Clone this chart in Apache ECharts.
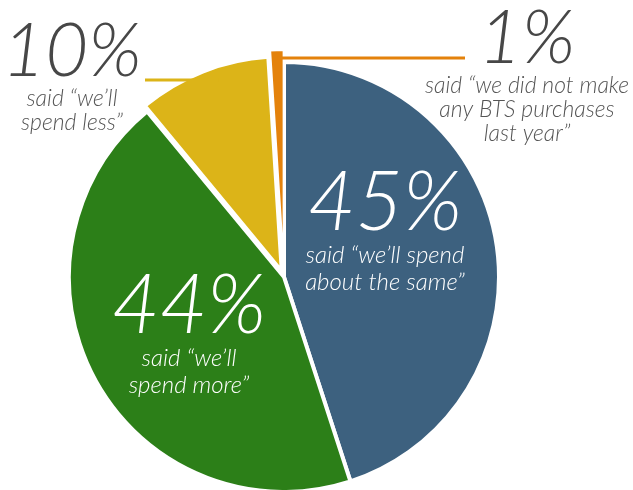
<!DOCTYPE html>
<html>
<head>
<meta charset="utf-8">
<script src="https://cdn.jsdelivr.net/npm/echarts@6/dist/echarts.min.js"></script>
<style>
  html, body { margin: 0; padding: 0; background: #fff; }
  #chart { width: 633px; height: 490px; }
</style>
</head>
<body>
<div id="chart"></div>
<script>
// Survey: planned back-to-school spending compared with last year
const answers = ['about the same', 'more', 'less', 'no purchases last year'];
const shares = [45, 44, 10, 1];
const captions = [
  ['said “we’ll spend', 'about the same”'],
  ['said “we’ll', 'spend more”'],
  ['said “we’ll', 'spend less”'],
  ['said “we did not make', 'any BTS purchases', 'last year”']
];

const sliceColors = ['#3d617f', '#2c7f18', '#dcb418', '#e4820b'];
const sliceBorder = [4, 4, 4, 2];
// how far each slice is pulled out of the pie
const pullOut = [0, 0, 6, 12];
const CENTER = [284, 277];
const RADIUS = 215;

// caption blocks: [centre x, top y]
const labelAnchor = [[385, 165], [189, 268], [72, 17], [527, 4]];
const onSlice = [true, true, false, false];
// leader lines for the outside captions: height, caption-side end, reach into slice
const leader = { 2: { y: 80, x: 145, reach: 0.8 }, 3: { y: 58, x: 465, reach: 0.9 } };

const FONT = 'Lato';
function richFor(inside) {
  const base = { fontFamily: FONT, fontWeight: 300, fontStyle: 'italic' };
  return inside
    ? {
        big: Object.assign({ fontSize: 82, lineHeight: 77, fill: '#ffffff' }, base),
        sub: Object.assign({ fontSize: 24, lineHeight: 27, fill: '#ffffff' }, base)
      }
    : {
        big: Object.assign({ fontSize: 74, lineHeight: 70, fill: '#474747' }, base),
        sub: Object.assign({ fontSize: 23, lineHeight: 24, fill: '#555555' }, base)
      };
}

function captionText(i) {
  return '{big|' + shares[i] + '%}\n' +
    captions[i].map(function (s) { return '{sub|' + s + '}'; }).join('\n');
}

// angle of a slice's middle, clockwise from 12 o'clock
const total = shares.reduce(function (a, b) { return a + b; }, 0);
function midAngle(i) {
  let before = 0;
  for (let j = 0; j < i; j++) before += shares[j];
  return (before + shares[i] / 2) / total * Math.PI * 2;
}
function slicePoint(i, frac) {
  const a = midAngle(i);
  const s = Math.sin(a), c = Math.cos(a);
  const d = pullOut[i] + RADIUS * frac;
  return [CENTER[0] + d * s, CENTER[1] - d * c];
}

// one pie per slice so every slice can have its own pull-out distance
const series = shares.map(function (_, k) {
  return {
    type: 'pie',
    center: CENTER,
    radius: RADIUS,
    startAngle: 90,
    clockwise: true,
    silent: true,
    animation: false,
    selectedMode: 'multiple',
    selectedOffset: pullOut[k],
    label: { show: false },
    labelLine: { show: false },
    data: shares.map(function (v, i) {
      const own = i === k;
      return {
        value: v,
        name: answers[i],
        selected: own,
        itemStyle: own
          ? { color: sliceColors[i], borderColor: '#ffffff', borderWidth: sliceBorder[i] }
          : { opacity: 0, borderWidth: 0 }
      };
    })
  };
});

const graphics = [];
shares.forEach(function (_, i) {
  const ld = leader[i];
  if (ld) {
    const inner = slicePoint(i, ld.reach)[0];
    graphics.push({
      type: 'line', z: 100, silent: true,
      shape: { x1: ld.x, y1: ld.y, x2: inner, y2: ld.y },
      style: { stroke: sliceColors[i], lineWidth: 3 }
    });
  }
  graphics.push({
    type: 'text', z: 101, silent: true,
    x: labelAnchor[i][0], y: labelAnchor[i][1],
    style: {
      text: captionText(i),
      rich: richFor(onSlice[i]),
      align: 'center',
      verticalAlign: 'top'
    }
  });
});

const chart = echarts.init(document.getElementById('chart'), null, { renderer: 'canvas' });
chart.setOption({
  backgroundColor: '#ffffff',
  series: series,
  graphic: graphics
});
</script>
</body>
</html>
